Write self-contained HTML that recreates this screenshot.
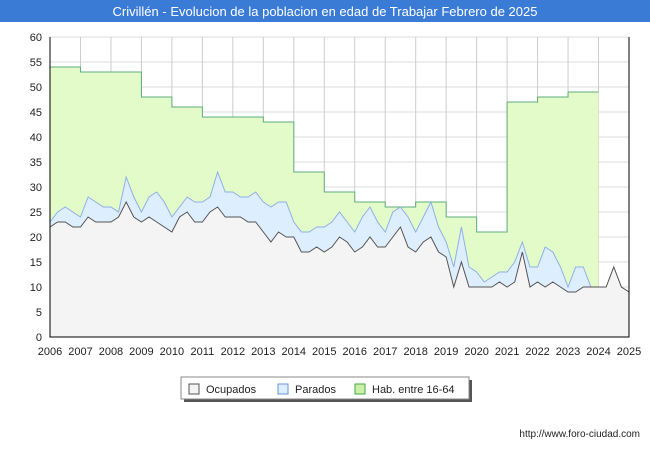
<!DOCTYPE html>
<html><head><meta charset="utf-8"><style>
body{margin:0;width:650px;height:450px;background:#fff;font-family:"Liberation Sans",sans-serif;overflow:hidden}
</style></head><body>
<svg width="650" height="450" xmlns="http://www.w3.org/2000/svg">
<rect x="0" y="0" width="650" height="22" fill="#3a7bd5"/>
<text x="325" y="16" text-anchor="middle" font-size="13" fill="#fff">Crivillén - Evolucion de la poblacion en edad de Trabajar Febrero de 2025</text>
<g id="grid"></g>
<g id="areas"></g>
<g id="axes"></g>
<g>
<rect x="184" y="380" width="288" height="22" fill="#555"/>
<rect x="181" y="377" width="288" height="22" fill="#fff" stroke="#888"/>
<rect x="189" y="384" width="10" height="10" fill="#f4f4f4" stroke="#555"/>
<text x="206" y="393" font-size="11" fill="#222">Ocupados</text>
<rect x="278" y="384" width="10" height="10" fill="#ddeeff" stroke="#6a94d8"/>
<text x="295" y="393" font-size="11" fill="#222">Parados</text>
<rect x="355" y="384" width="10" height="10" fill="#ccf0a8" stroke="#4a4"/>
<text x="372" y="393" font-size="11" fill="#222">Hab. entre 16-64</text>
</g>
<text x="640" y="437" text-anchor="end" font-size="10" fill="#222">http://www.foro-ciudad.com</text>
</svg>
<script>
const years=[2006,2007,2008,2009,2010,2011,2012,2013,2014,2015,2016,2017,2018,2019,2020,2021,2022,2023];
const hab=[54,53,53,48,46,44,44,43,33,29,27,26,27,24,21,47,48,49];
const ocupados=[22,23,23,22,22,24,23,23,23,24,27,24,23,24,23,22,21,24,25,23,23,25,26,24,24,24,23,23,21,19,21,20,20,17,17,18,17,18,20,19,17,18,20,18,18,20,22,18,17,19,20,17,16,10,15,10,10,10,10,11,10,11,17,10,11,10,11,10,9,9,10,10,10,10,14,10,9];
const parados=[1,2,3,3,2,4,4,3,3,1,5,4,2,4,6,5,3,2,3,4,4,3,7,5,5,4,5,6,6,7,6,7,3,4,4,4,5,5,5,4,4,6,6,5,3,5,4,6,4,5,7,5,3,4,7,4,3,1,2,2,3,4,2,4,3,8,6,4,1,5,4,0,0,0,0,0,0];
const yTicks=[0,5,10,15,20,25,30,35,40,45,50,55,60];
const xTicks=[2006,2007,2008,2009,2010,2011,2012,2013,2014,2015,2016,2017,2018,2019,2020,2021,2022,2023,2024,2025];
const X0=50,X1=629,Y0=337,Y1=37;
const xs=t=>X0+(t-2006)/19*(X1-X0);
const ys=v=>Y0-v/60*(Y0-Y1);
const NS="http://www.w3.org/2000/svg";
function mk(p,tag,a){const e=document.createElementNS(NS,tag);for(const k in a)e.setAttribute(k,a[k]);p.appendChild(e);return e;}
const grid=document.getElementById('grid'),areas=document.getElementById('areas'),axes=document.getElementById('axes');
mk(grid,'rect',{x:X0,y:Y1,width:X1-X0,height:Y0-Y1,fill:'#fff'});
yTicks.forEach(v=>{const l=mk(grid,'line',{x1:X0,x2:X1,y1:ys(v),y2:ys(v),stroke:'#ddd'});


const t=mk(axes,'text',{x:X0-8,y:ys(v)+4,'text-anchor':'end','font-size':11,fill:'#222'});t.textContent=v;

});
xTicks.forEach(v=>{const l=mk(grid,'line',{x1:xs(v),x2:xs(v),y1:Y1,y2:Y0,stroke:'#ccc'});


const t=mk(axes,'text',{x:xs(v),y:Y0+18,'text-anchor':'middle','font-size':11,fill:'#222'});t.textContent=v;

});
let hp=[];years.forEach((y,i)=>{hp.push([xs(y),ys(hab[i])]);hp.push([xs(y+1),ys(hab[i])]);});
const hline=hp.map(p=>p.join(',')).join(' ');
const ha=mk(areas,'polygon',{points:xs(2006)+','+Y0+' '+hline+' '+xs(2024)+','+Y0,fill:'#e2fbc8'});


const hl=mk(areas,'polyline',{points:hline,fill:'none',stroke:'#5fae7e','stroke-width':1});


const tq=i=>2006+i*0.25;
const paradosTop=ocupados.map((o,i)=>o+parados[i]);
const pl=paradosTop.map((v,i)=>xs(tq(i))+','+ys(v)).join(' ');
const pa=mk(areas,'polygon',{points:xs(2006)+','+Y0+' '+pl+' '+xs(tq(paradosTop.length-1))+','+Y0,fill:'#ddeeff'});


const pln=mk(areas,'polyline',{points:pl,fill:'none',stroke:'#8fb0e8'});


const ol=ocupados.map((v,i)=>xs(tq(i))+','+ys(v)).join(' ');
const oa=mk(areas,'polygon',{points:xs(2006)+','+Y0+' '+ol+' '+xs(tq(ocupados.length-1))+','+Y0,fill:'#f4f4f4'});


const oln=mk(areas,'polyline',{points:ol,fill:'none',stroke:'#555'});


const ax=mk(axes,'polyline',{points:X0+','+Y1+' '+X0+','+Y0+' '+X1+','+Y0+' '+X1+','+Y1,fill:'none',stroke:'#000'});


</script>
</body></html>
